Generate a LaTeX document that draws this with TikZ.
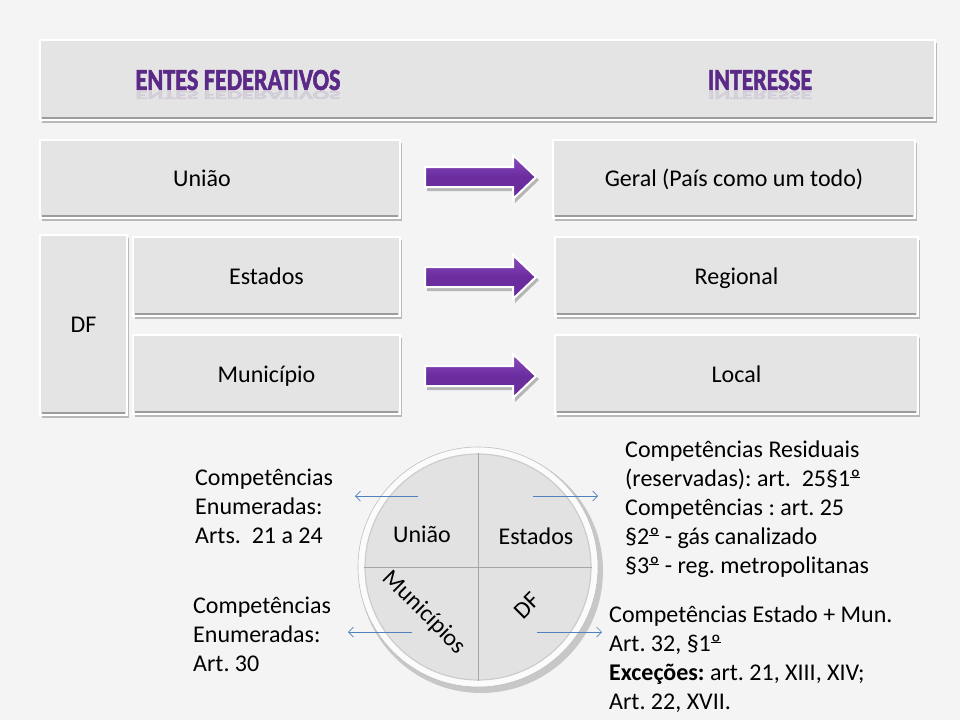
\documentclass[tikz,border=0pt]{standalone}
\usepackage{fontspec}
\setmainfont{Carlito}
\newfontfamily\headfont[FakeBold=2.2]{Carlito Bold}
\usetikzlibrary{shadows,arrows.meta,calc}
\frenchspacing
\definecolor{bg}{HTML}{F4F4F4}
\definecolor{boxfill}{HTML}{E4E4E4}
\definecolor{boxedge}{HTML}{9C9C9C}
\definecolor{purp}{HTML}{6B2C9E}
\definecolor{purplight}{HTML}{8A4CC0}
\definecolor{headp}{HTML}{5B2A88}
\definecolor{lineblue}{HTML}{4F81BD}
\definecolor{diskfill}{HTML}{E2E2E2}
\newlength\ordw
\newcommand{\ordo}{\settowidth{\ordw}{º}\makebox[0pt][l]{º}\rule[0.36em]{\ordw}{0.05em}}
\newcommand{\blockarrow}[3]{%
  \fill[black,opacity=0.25] (#1+2,#3-8) -- (#2-21,#3-8) -- (#2-21,#3-20) -- (#2+3,#3+3) -- (#2-21,#3+26) -- (#2-21,#3+14) -- (#1+2,#3+14) -- cycle;
  \draw[white,line width=2pt,top color=purplight,bottom color=purp,middle color=purp]
    (#1,#3-10) -- (#2-23,#3-10) -- (#2-23,#3-22) -- (#2,#3) -- (#2-23,#3+22) -- (#2-23,#3+10) -- (#1,#3+10) -- cycle;}
\begin{document}
\begin{tikzpicture}[x=1pt,y=-1pt,
  box/.style={draw=white, line width=2.5pt, fill=boxfill, inner sep=0pt,
    drop shadow={shadow xshift=1.5pt,shadow yshift=-2.5pt,opacity=0.35,fill=black!70},
    font=\fontsize{24}{29}\selectfont, text height=17pt, text depth=2pt,
    append after command={
      (\tikzlastnode.south west) ++(3pt,3pt) edge[draw=boxedge,line width=1.6pt] ($(\tikzlastnode.south east)+(-3pt,3pt)$)
    }},
  bodytext/.style={font=\fontsize{24}{29}\selectfont, align=left, inner sep=0pt},
  qlabel/.style={font=\fontsize{24}{29}\selectfont, inner sep=0pt, text height=17pt, text depth=2pt},
  heading/.style={inner sep=0pt, text=headp, font=\headfont},
  link/.style={draw=lineblue, line width=0.7pt, -{Straight Barb[length=5pt,width=10pt]}},
]
\useasboundingbox (0,0) rectangle (960,720);
\fill[bg] (0,0) rectangle (960,720);

% header
\node[box, minimum width=895, minimum height=80] (head) at (487.5,80) {};
\node[heading] (h1) at (238,80) {\resizebox{205pt}{20pt}{ENTES FEDERATIVOS}};
\node[heading] (h2) at (760,80) {\resizebox{104pt}{20pt}{INTERESSE}};
\node[heading, opacity=0.1] (h1r) at (238,95) {\scalebox{1}[-0.4]{\resizebox{205pt}{20pt}{ENTES FEDERATIVOS}}};
\node[heading, opacity=0.1] (h2r) at (760,95) {\scalebox{1}[-0.4]{\resizebox{104pt}{20pt}{INTERESSE}}};

% left boxes
\node[box, minimum width=360, minimum height=78] (uniao) at (220,179) {};
\node[qlabel] (uniaot) at (202,179) {União};
\node[box, minimum width=87, minimum height=180] (df) at (83.5,325) {DF};
\node[box, minimum width=267, minimum height=79] (est) at (266.5,276.5) {Estados};
\node[box, minimum width=267, minimum height=79] (mun) at (266.5,374.5) {Município};

% right boxes
\node[box, minimum width=362, minimum height=78] (geral) at (734,179) {Geral (País como um todo)};
\node[box, minimum width=363, minimum height=79] (reg) at (736.5,276.5) {Regional};
\node[box, minimum width=363, minimum height=79] (loc) at (736.5,374.5) {Local};

% purple block arrows
\blockarrow{425}{536}{177}
\blockarrow{425}{536}{277}
\blockarrow{425}{536}{376}

% wheel
\fill[black,opacity=0.18] (481,571) circle (122);
\node[circle, minimum size=240, inner sep=0pt, fill=white!97!gray, draw=gray!50, line width=0.6pt] (wheel) at (478,567) {};
\node[circle, minimum size=226, inner sep=0pt, fill=diskfill, draw=gray!40, line width=1.2pt] (disk) at (478,567) {};
\draw[gray!70, line width=0.8pt] (disk.north) -- (disk.south);
\draw[gray!70, line width=0.8pt] (disk.west) -- (disk.east);

\node[qlabel] (qu) at (422,535) {União};
\node[qlabel] (qe) at (536,537) {Estados};
\node[qlabel, rotate=-45] (qm) at (425,612) {Municípios};
\node[qlabel, rotate=45] (qd) at (527,606) {DF};

% connector endpoints
\coordinate (u0) at (418,496);
\coordinate (u1) at (355,496);
\coordinate (e0) at (533,496);
\coordinate (e1) at (598,496);
\coordinate (m0) at (412,632);
\coordinate (m1) at (348,632);
\coordinate (d0) at (537,632);
\coordinate (d1) at (602,632);
\draw[link] (u0) -- (u1);
\draw[link] (e0) -- (e1);
\draw[link] (m0) -- (m1);
\draw[link] (d0) -- (d1);

% text blocks
\node[bodytext, anchor=north west] (tu) at (195,469) {Competências\\Enumeradas:\\Arts.\ \ 21 a 24};
\node[bodytext, anchor=north west] (tm) at (193,597) {Competências\\Enumeradas:\\Art. 30};
\node[bodytext, anchor=north west] (te) at (625,441) {Competências Residuais\\(reservadas): art.\ \ 25§1\ordo\\Competências : art. 25\\§2\ordo{} - gás canalizado\\§3\ordo{} - reg. metropolitanas};
\node[bodytext, anchor=north west] (td) at (609,606) {Competências Estado + Mun.\\Art. 32, §1\ordo\\\textbf{Exceções:} art. 21, XIII, XIV;\\Art. 22, XVII.};
\end{tikzpicture}
\end{document}
